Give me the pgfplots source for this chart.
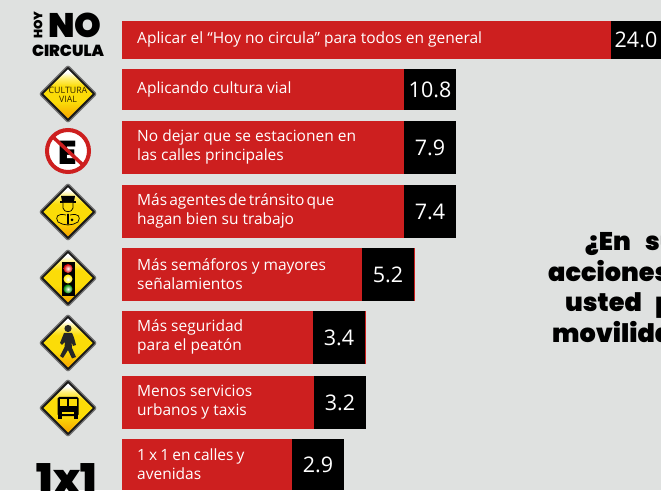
\documentclass[border=0pt]{standalone}
\usepackage{pgfplots}
\pgfplotsset{compat=1.18}
\usepackage{fontspec}
\setmainfont{Open Sans}
\newfontfamily\heavy{Poppins Black}
\definecolor{paper}{HTML}{DFE1E0}
\definecolor{barred}{HTML}{CD1F1F}
\definecolor{signlow}{HTML}{F8AE00}
\definecolor{signmid}{HTML}{FBDC08}
\definecolor{signhigh}{HTML}{FFEF70}
\pgfdeclareverticalshading{signfill}{100bp}{color(0bp)=(signlow); color(28bp)=(signlow); color(42bp)=(signmid); color(58bp)=(signmid); color(66bp)=(signhigh); color(72bp)=(white); color(100bp)=(white)}

% One row: centre, height, outer length, black end, red end, value, caption.
% Lengths are the drawn lengths of the panel, which do not scale with the printed figure.
\newcommand{\barrow}[7]{%
  \addplot[xbar,bar shift=0pt,bar width=#2pt,fill=barred,draw=none] coordinates {(#3,#1)};
  \addplot[xbar,bar shift=0pt,bar width=#2pt,fill=black,draw=none] coordinates {(#4,#1)};
  \addplot[xbar,bar shift=0pt,bar width=#2pt,fill=barred,draw=none] coordinates {(#5,#1)};
  \node[anchor=west,text=white,align=left,font=\fontsize{15.5}{19}\selectfont,inner sep=0pt] at (axis cs:15,#1-0.5) {#7};
  \node[text=white,font=\fontsize{21.5}{22}\selectfont,inner sep=0pt] at (axis cs:{(#4+#5)/2},#1) {#6};
}
% Diamond road sign centred on a point given in panel pixels
\newcommand{\signat}[3]{%
  \begin{scope}[shift={(#1,490-#2)}]
    \draw[line width=1.2pt,draw=black!55,fill=black!90,rounded corners=2pt] (0,28.5)--(28.5,0)--(0,-28.5)--(-28.5,0)--cycle;
    \shade[shading=signfill] (0,24.5)--(24.5,0)--(0,-24.5)--(-24.5,0)--cycle;
    #3
  \end{scope}}
\begin{document}
\begin{tikzpicture}[x=1pt,y=1pt]
\fill[paper] (0,0) rectangle (661,490);
\clip (0,0) rectangle (661,490);
\begin{axis}[
  at={(0,0)},anchor=south west,
  scale only axis,width=661pt,height=490pt,
  xmin=-122,xmax=539,ymin=0,ymax=490,y dir=reverse,
  axis lines=none,clip=true]
\barrow{40}{38}{539}{539}{489}{24.0}{Aplicar el “Hoy no circula” para todos en general}
\barrow{89.5}{41}{334}{334}{282}{10.8}{Aplicando cultura vial}
\barrow{147.5}{53}{334}{334}{282}{7.9}{No dejar que se estacionen en\\las calles principales}
\barrow{211.5}{53}{334}{334}{282}{7.4}{{\spaceskip=0.14em Más agentes de tránsito que}\\hagan bien su trabajo}
\barrow{274.5}{53}{293}{292}{240}{5.2}{Más semáforos y mayores\\señalamientos}
\barrow{337.5}{53}{244}{243}{191}{3.4}{Más seguridad\\para el peatón}
\barrow{402.5}{53}{244}{244}{192}{3.2}{Menos servicios\\urbanos y taxis}
\barrow{464.5}{51}{222}{222}{170}{2.9}{{\spaceskip=0.2em 1 x 1 en calles y}\\avenidas}
\end{axis}

% Heading, running off the right edge
\node[anchor=base west,inner sep=0pt,font=\heavy\fontsize{25.5}{26}\selectfont] at (585,490-251) {¿En\hspace{10pt} su};
\node[anchor=base west,inner sep=0pt,font=\heavy\fontsize{25.5}{26}\selectfont] at (548,490-282) {acciones};
\node[anchor=base west,inner sep=0pt,font=\heavy\fontsize{25.5}{26}\selectfont] at (565,490-312) {usted\hspace{9pt} p};
\node[anchor=base west,inner sep=0pt,font=\heavy\fontsize{25.5}{26}\selectfont] at (552,490-343) {movilidad};

% Hoy no circula
\node[inner sep=0pt,font=\heavy\fontsize{34}{34}\selectfont] at (75,490-25) {NO};
\node[inner sep=0pt,rotate=90,font=\heavy\fontsize{12}{12}\selectfont] at (38,490-25) {HOY};
\node[inner sep=0pt,font=\heavy\fontsize{16}{16}\selectfont] at (68,490-51) {CIRCULA};

% Cultura vial
\signat{68}{94}{\node[align=center,inner sep=0pt,text=black!80!signlow,font=\fontsize{8.8}{9}\selectfont] at (0,-1) {CULTURA\\VIAL};}

% No parking
\draw[line width=4pt,draw=barred,fill=white] (68,490-151) circle (21);
\node[inner sep=0pt,font=\heavy\fontsize{33}{33}\selectfont] at (68,490-153) {E};
\draw[line width=3.5pt,draw=barred] (53,490-137)--(83,490-165);

% Traffic officer
\signat{68}{212}{
  \fill (-7,16)--(7,16)--(6,11)--(-6,11)--cycle;
  \fill[black] (-8,10.5) rectangle (8,9);
  \draw[line width=.7pt,fill=signmid] (-5,9)--(-5,4)..controls (-4,-1) and (4,-1)..(5,4)--(5,9);
  \draw[line width=.7pt] (-2,-3)..controls (-11,-1) and (-13,-5)..(-10,-10)..controls (-4,-14) and (4,-14)..(10,-10)..controls (13,-5) and (11,-1)..(2,-3);
  \fill (-.8,-2)--(.8,-2)--(1,-12)--(0,-13)--(-1,-12)--cycle;
  \fill (4,-8) circle (1.5);
}

% Traffic light
\signat{68}{278}{
  \fill[black] (-6.5,-18) rectangle (6.5,15.5);
  \shade[inner color=white,outer color=red!85!black] (0,9.5) circle (4.5);
  \shade[inner color=white,outer color=yellow!85!orange] (0,-1) circle (4.5);
  \shade[inner color=white,outer color=green!55!black] (0,-11) circle (4.5);
}

% Pedestrian
\signat{68}{343}{
  \fill[black!85] (0,14.5) circle (3.6);
  \fill[black!85] (-4,10)--(4,10)..controls (6,6) and (7,2)..(8,-2)--(5,-3)--(3.5,1)--(4,-5)--(8,-14)--(4,-15.5)--(0,-7)--(-5,-15)--(-8,-13)--(-3.5,-4)--(-3,1)--(-6,-2)--(-8,0)--cycle;
}

% Bus
\signat{68}{408}{
  \fill[black,rounded corners=1.5pt] (-10.5,-8) rectangle (10.5,11);
  \fill[signmid] (-8.5,1.5) rectangle (-0.8,9);
  \fill[signmid] (0.8,1.5) rectangle (8.5,9);
  \fill[signmid] (-6,-6.5) rectangle (6,-4.5);
  \fill[black] (-10,-11) rectangle (-6,-7);
  \fill[black] (6,-11) rectangle (10,-7);
}

% 1x1
\node[inner sep=0pt,font=\heavy\fontsize{41}{41}\selectfont] at (67,490-479) {1x1};
\end{tikzpicture}
\end{document}
